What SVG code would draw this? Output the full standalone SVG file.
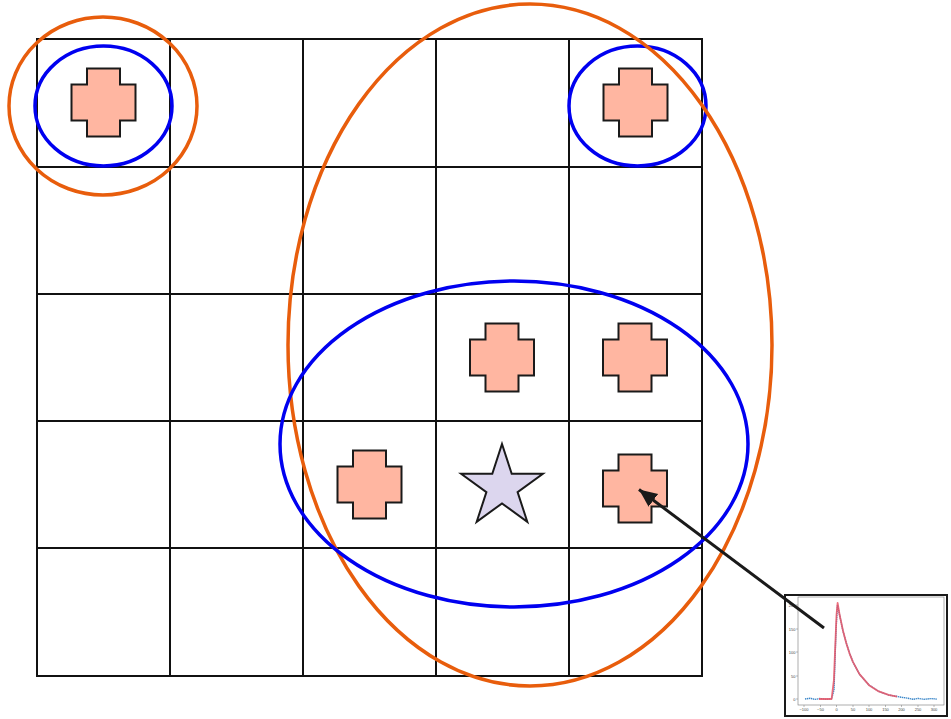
<svg xmlns="http://www.w3.org/2000/svg" width="951" height="719" viewBox="0 0 951 719">
<style>
.grid{stroke:#111;stroke-width:2;fill:none}
.cross{fill:#ffb6a1;stroke:#1a1a1a;stroke-width:2;stroke-linejoin:miter}
.star{fill:#dcd6ee;stroke:#1a1a1a;stroke-width:2}
.orange{fill:none;stroke:#e85d0c;stroke-width:3.5}
.blue{fill:none;stroke:#0000f0;stroke-width:3.5}
.tick{font-family:"Liberation Sans",Arial,sans-serif;font-size:4px;fill:#444}
.conn{stroke:#1a1a1a;stroke-width:3;fill:none}
</style>
<defs>
<path id="cr" d="M-16.5,-34 H16.5 V-18 H32 V18 H16.5 V34 H-16.5 V18 H-32 V-18 H-16.5 Z"/>
<marker id="ah" markerUnits="userSpaceOnUse" markerWidth="22" markerHeight="18" refX="18" refY="8" orient="auto">
<path d="M0,0 L18,8 L0,16 Z" fill="#1a1a1a"/>
</marker>
</defs>
<rect width="951" height="719" fill="#fff"/>
<g id="grid" class="grid">
<rect x="37" y="39" width="665" height="637"/>
<path d="M170,39V676M303,39V676M436,39V676M569,39V676M37,167H702M37,294H702M37,421H702M37,548H702"/>
</g>
<g id="cross-1"><use href="#cr" class="cross" x="103.5" y="102.5"/></g>
<g id="cross-2"><use href="#cr" class="cross" x="635.5" y="102.5"/></g>
<g id="cross-3"><use href="#cr" class="cross" x="502" y="357.5"/></g>
<g id="cross-4"><use href="#cr" class="cross" x="635" y="357.5"/></g>
<g id="cross-5"><use href="#cr" class="cross" x="369.5" y="484.5"/></g>
<g id="cross-6"><use href="#cr" class="cross" x="635" y="488.5"/></g>
<g id="star"><polygon class="star" points="502,444 511.7,473.7 542.9,473.7 517.6,492.1 527.3,521.8 502,503.4 476.7,521.8 486.4,492.1 461.1,473.7 492.3,473.7"/></g>
<g id="ellipse-orange-small"><ellipse class="orange" cx="103" cy="106" rx="94" ry="89"/></g>
<g id="ellipse-blue-small-left"><ellipse class="blue" cx="103.5" cy="106" rx="68.5" ry="60"/></g>
<g id="ellipse-blue-small-right"><ellipse class="blue" cx="637.5" cy="106" rx="68.5" ry="60"/></g>
<g id="ellipse-orange-big"><ellipse class="orange" cx="530" cy="345" rx="242" ry="341"/></g>
<g id="ellipse-blue-big"><ellipse class="blue" cx="514" cy="444" rx="234" ry="163"/></g>
<g id="inset">
<rect x="785" y="595" width="162" height="121" fill="#fff" stroke="#1a1a1a" stroke-width="2"/>
<rect x="798" y="597" width="146" height="108" fill="none" stroke="#777" stroke-width="0.6"/>
<g stroke="#777" stroke-width="0.5">
<path d="M796,699H798M796,676H798M796,652H798M796,629H798M796,605H798"/>
<path d="M804,705V707M820.5,705V707M836.5,705V707M853,705V707M869,705V707M885.5,705V707M901.5,705V707M918,705V707M934,705V707"/>
</g>
<g class="tick" text-anchor="end">
<text x="795.5" y="700.5">0</text>
<text x="795.5" y="677.5">50</text>
<text x="795.5" y="653.5">100</text>
<text x="795.5" y="630.5">150</text>
<text x="795.5" y="606.5">200</text>
</g>
<g class="tick" text-anchor="middle">
<text x="804" y="711">−100</text>
<text x="820.5" y="711">−50</text>
<text x="836.5" y="711">0</text>
<text x="853" y="711">50</text>
<text x="869" y="711">100</text>
<text x="885.5" y="711">150</text>
<text x="901.5" y="711">200</text>
<text x="918" y="711">250</text>
<text x="934" y="711">300</text>
</g>
<polyline fill="none" stroke="#3b87c9" stroke-width="1.4" stroke-dasharray="1.4 0.6" points="805,699 810,698.3 815,699.4 820,698.5 826,699.3 831.6,698.7 834,690 836,630 837.5,605 839.8,616 843,631 846.3,643 849.5,653 852.8,661.6 859.3,674 869,685 878.8,691.4 888.5,695 901.5,697.3 908,698.2 913,699.3 918,698.4 924,699.3 931,698.6 937,699.1"/>
<polyline fill="none" stroke="#eb5565" stroke-opacity="0.85" stroke-width="1.8" stroke-linejoin="round" points="819,699 831.6,699 833.9,680 835.5,640 836.5,615 837.6,603 839.8,615.8 843,630.8 846.3,643.2 849.5,653.3 852.8,661.6 859.3,673.9 869,685.2 878.8,691.4 888.5,694.8 897,696.6"/>
</g>
<g id="connectors">
<line class="conn" x1="824" y1="628" x2="639" y2="489.5" marker-end="url(#ah)"/>
</g>
</svg>
